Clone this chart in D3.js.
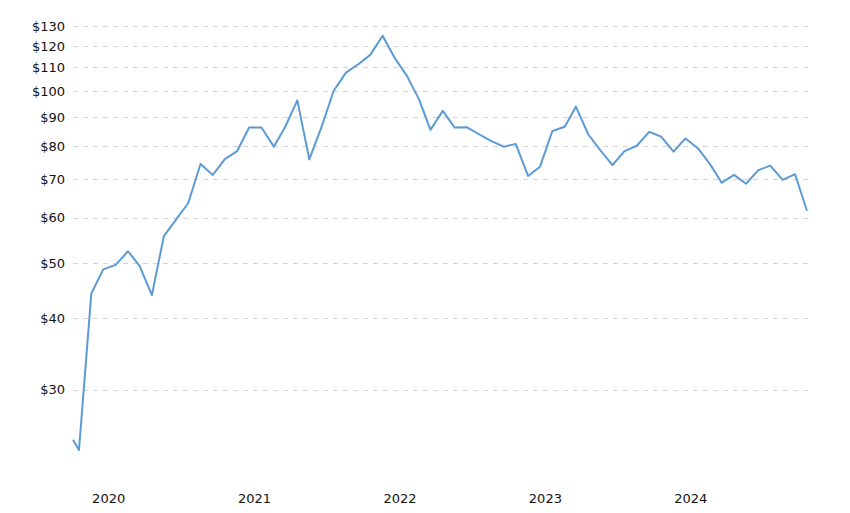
<!DOCTYPE html>
<html lang="en">
<head>
	<meta charset="utf-8">
	<title>Monthly price</title>
	<script type="text/javascript" src="https://d3js.org/d3.v7.min.js"></script>
	<style type="text/css">
		body { margin: 0; background: #fff; }
		.tick-label { font-family: "DejaVu Sans", Verdana, sans-serif; font-size: 13px; fill: #111; }
	</style>
</head>
<body>
	<script type="text/javascript">

        // monthly points (mid-month), first point is the start of the series
        var dates = [
            "2019-10-01",
            "2019-10-16", "2019-11-16", "2019-12-16",
            "2020-01-16", "2020-02-16", "2020-03-16", "2020-04-16", "2020-05-16", "2020-06-16",
            "2020-07-16", "2020-08-16", "2020-09-16", "2020-10-16", "2020-11-16", "2020-12-16",
            "2021-01-16", "2021-02-16", "2021-03-16", "2021-04-16", "2021-05-16", "2021-06-16",
            "2021-07-16", "2021-08-16", "2021-09-16", "2021-10-16", "2021-11-16", "2021-12-16",
            "2022-01-16", "2022-02-16", "2022-03-16", "2022-04-16", "2022-05-16", "2022-06-16",
            "2022-07-16", "2022-08-16", "2022-09-16", "2022-10-16", "2022-11-16", "2022-12-16",
            "2023-01-16", "2023-02-16", "2023-03-16", "2023-04-16", "2023-05-16", "2023-06-16",
            "2023-07-16", "2023-08-16", "2023-09-16", "2023-10-16", "2023-11-16", "2023-12-16",
            "2024-01-16", "2024-02-16", "2024-03-16", "2024-04-16", "2024-05-16", "2024-06-16",
            "2024-07-16", "2024-08-16", "2024-09-16", "2024-10-16"
        ];

        var prices = [
            24.5,
            23.5, 44.2, 48.7,
            49.6, 52.4, 49.4, 43.9, 55.7, 59.6,
            63.6, 74.5, 71.3, 76.0, 78.5, 86.3,
            86.3, 79.9, 86.4, 96.3, 75.9, 86.6,
            100.0, 107.7, 111.4, 115.7, 125.0, 114.4,
            106.3, 96.5, 85.5, 92.3, 86.3, 86.4,
            84.0, 81.7, 79.9, 80.8, 71.0, 73.7,
            85.1, 86.6, 93.9, 84.0, 78.8, 74.2,
            78.5, 80.2, 84.8, 83.2, 78.3, 82.6,
            79.4, 74.4, 69.1, 71.3, 68.8, 72.7,
            74.0, 69.9, 71.5, 61.7
        ];

        var yTicks = [30, 40, 50, 60, 70, 80, 90, 100, 110, 120, 130];
        var xTicks = ["2020-01-01", "2021-01-01", "2022-01-01", "2023-01-01", "2024-01-01"];

        var width = 850, height = 513;
        var parse = d3.timeParse("%Y-%m-%d");

        var data = dates.map(function(d, i) {
            return { date: parse(d), value: prices[i] };
        });

        var x = d3.scaleTime()
            .domain([parse("2019-10-01"), parse("2024-10-16")])
            .range([73, 807]);

        var y = d3.scaleLog()
            .domain([30, 130])
            .range([389.5, 26]);

        var svg = d3.select("body")
            .append("svg")
            .attr("width", width)
            .attr("height", height);

        // horizontal grid
        svg.append("g")
            .selectAll("line")
            .data(yTicks)
            .enter()
            .append("line")
            .attr("x1", 73)
            .attr("x2", 808)
            .attr("y1", function(d) { return Math.round(y(d)) + 0.5; })
            .attr("y2", function(d) { return Math.round(y(d)) + 0.5; })
            .attr("stroke", "#d4d4d4")
            .attr("stroke-width", 1)
            .attr("stroke-dasharray", "5,5");

        // y labels
        svg.append("g")
            .selectAll("text")
            .data(yTicks)
            .enter()
            .append("text")
            .attr("class", "tick-label")
            .attr("x", 65)
            .attr("y", function(d) { return y(d); })
            .attr("dy", "0.36em")
            .attr("text-anchor", "end")
            .text(function(d) { return "$" + d; });

        // x labels
        svg.append("g")
            .selectAll("text")
            .data(xTicks)
            .enter()
            .append("text")
            .attr("class", "tick-label")
            .attr("x", function(d) { return x(parse(d)) - 1; })
            .attr("y", 503)
            .attr("text-anchor", "middle")
            .text(function(d) { return d.substring(0, 4); });

        var line = d3.line()
            .x(function(d) { return x(d.date); })
            .y(function(d) { return y(d.value); });

        svg.append("path")
            .datum(data)
            .attr("fill", "none")
            .attr("stroke", "#5b9bd5")
            .attr("stroke-width", 2)
            .attr("stroke-linejoin", "round")
            .attr("d", line);

	</script>
</body>
</html>
